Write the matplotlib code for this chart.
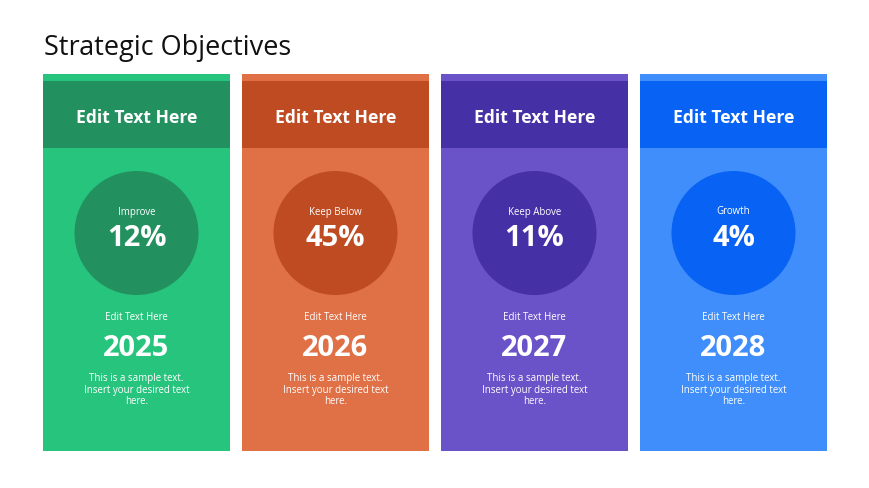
import matplotlib.pyplot as plt
from matplotlib.patches import Rectangle, Circle

plt.rcParams["font.family"] = "Open Sans"

headers = ["Edit Text Here"] * 4
labels = ["Improve", "Keep Below", "Keep Above", "Growth"]
values = ["12%", "45%", "11%", "4%"]
years = ["2025", "2026", "2027", "2028"]
body = "This is a sample text.\nInsert your desired text\nhere."
light = ["#27C47D", "#E07046", "#6A52C9", "#3F8EFB"]
dark = ["#22915F", "#BF4B23", "#4530A6", "#0862F4"]

fig = plt.figure(figsize=(8.7, 4.89), dpi=100)
ax = fig.add_axes([0, 0, 1, 1])
ax.set_xlim(0, 870)
ax.set_ylim(489, 0)
ax.axis("off")

ax.text(44, 48, "Strategic Objectives", fontsize=19.5, color="#111111", va="center", ha="left")

x0, w, step = 43, 187, 199
for i in range(4):
    x = x0 + i * step
    cx = x + w / 2
    ax.add_patch(Rectangle((x, 75), w, 377, color=light[i], lw=0))
    ax.add_patch(Rectangle((x, 82), w, 67, color=dark[i], lw=0))
    ax.text(cx, 118, headers[i], color="white", fontsize=12.6, fontweight="bold", ha="center", va="center")
    ax.add_patch(Circle((cx, 234), 62, color=dark[i], lw=0))
    ax.text(cx, 212, labels[i], color="white", fontsize=7, ha="center", va="center")
    ax.text(cx, 239, values[i], color="white", fontsize=21, fontweight="bold", ha="center", va="center")
    ax.text(cx, 317, "Edit Text Here", color="white", fontsize=7, ha="center", va="center")
    ax.text(cx, 348, years[i], color="white", fontsize=21, fontweight="bold", ha="center", va="center")
    ax.text(cx, 390, body, color="white", fontsize=7, ha="center", va="center", linespacing=1.1)

fig.savefig("out.png", dpi=100)
